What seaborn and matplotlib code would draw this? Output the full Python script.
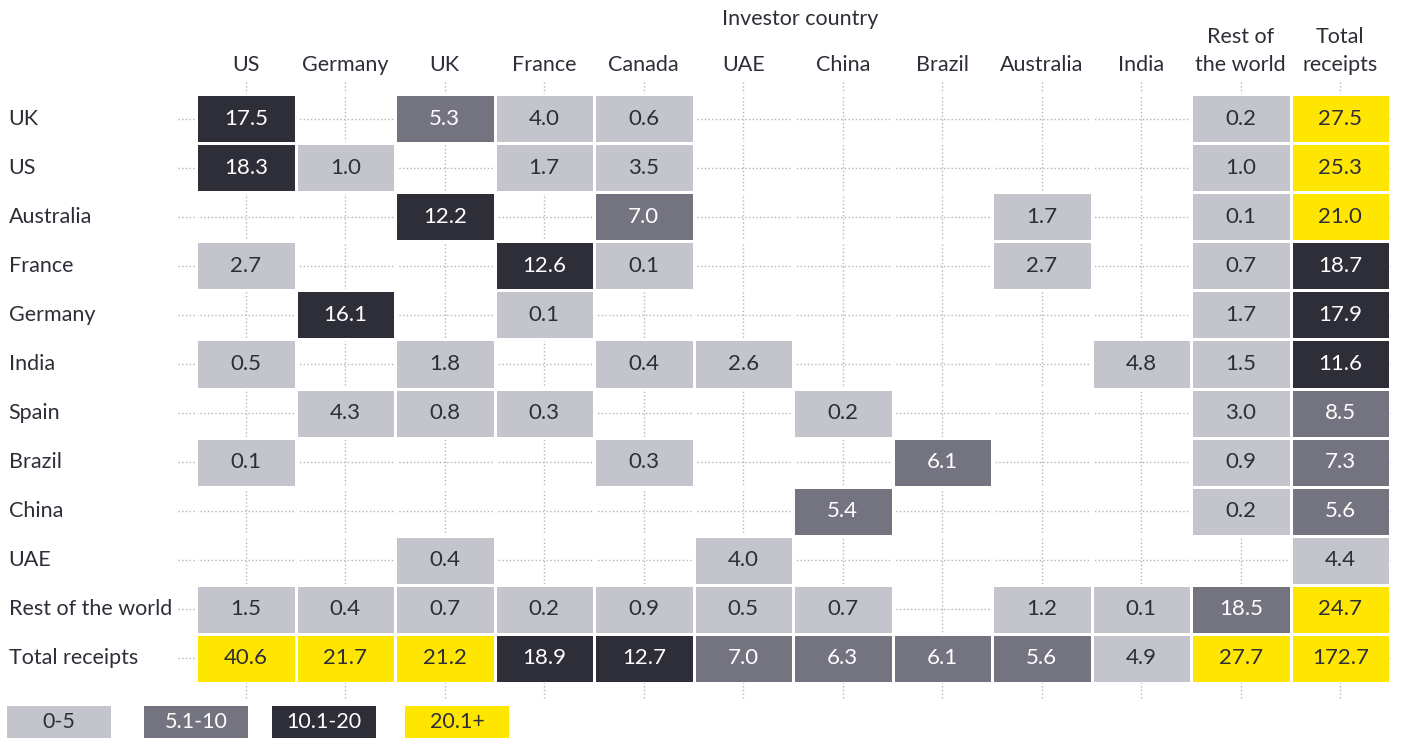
import numpy as np
import pandas as pd
import matplotlib.pyplot as plt
import seaborn as sns
from matplotlib.colors import ListedColormap
from matplotlib.patches import Rectangle

# === Datos ===
investidores = ['US', 'Germany', 'UK', 'France', 'Canada', 'UAE', 'China', 'Brazil',
                'Australia', 'India', 'Rest of\nthe world', 'Total\nreceipts']
receptores = ['UK', 'US', 'Australia', 'France', 'Germany', 'India', 'Spain', 'Brazil',
              'China', 'UAE', 'Rest of the world', 'Total receipts']
n = np.nan
valores = [
    [17.5, n, 5.3, 4.0, 0.6, n, n, n, n, n, 0.2, 27.5],
    [18.3, 1.0, n, 1.7, 3.5, n, n, n, n, n, 1.0, 25.3],
    [n, n, 12.2, n, 7.0, n, n, n, 1.7, n, 0.1, 21.0],
    [2.7, n, n, 12.6, 0.1, n, n, n, 2.7, n, 0.7, 18.7],
    [n, 16.1, n, 0.1, n, n, n, n, n, n, 1.7, 17.9],
    [0.5, n, 1.8, n, 0.4, 2.6, n, n, n, 4.8, 1.5, 11.6],
    [n, 4.3, 0.8, 0.3, n, n, 0.2, n, n, n, 3.0, 8.5],
    [0.1, n, n, n, 0.3, n, n, 6.1, n, n, 0.9, 7.3],
    [n, n, n, n, n, n, 5.4, n, n, n, 0.2, 5.6],
    [n, n, 0.4, n, n, 4.0, n, n, n, n, n, 4.4],
    [1.5, 0.4, 0.7, 0.2, 0.9, 0.5, 0.7, n, 1.2, 0.1, 18.5, 24.7],
    [40.6, 21.7, 21.2, 18.9, 12.7, 7.0, 6.3, 6.1, 5.6, 4.9, 27.7, 172.7],
]
rangos = ['0-5', '5.1-10', '10.1-20', '20.1+']
colores = ['#C4C4CD', '#747480', '#2E2E38', '#FFE600']
color_texto = ['#2E2E38', '#FFFFFF', '#FFFFFF', '#2E2E38']

df = pd.DataFrame(valores, index=receptores, columns=investidores)
niveles = pd.DataFrame(np.digitize(df.values, [5.05, 10.05, 20.05]).astype(float),
                       index=receptores, columns=investidores)
niveles.iloc[10, 10] = 1  # el original lo pinta en gris medio
niveles = niveles.where(df.notna())

# === Figura ===
plt.rcParams['font.family'] = ['Lato', 'DejaVu Sans']
fs = 15.5
fig = plt.figure(figsize=(14.01, 7.39), dpi=100)
ax = fig.add_axes([196 / 1401, 1 - 683 / 739, 1194 / 1401, 589 / 739])

sns.heatmap(niveles, ax=ax, cmap=ListedColormap(colores), vmin=-0.5, vmax=3.5,
            mask=df.isna(), annot=df, fmt='.1f', cbar=False,
            linewidths=2, linecolor='white',
            annot_kws={'fontsize': 16})

for t in ax.texts:
    x, y = t.get_position()
    t.set_color(color_texto[int(niveles.iloc[int(y), int(x)])])

# lineas punteadas de guia
for i in range(len(receptores)):
    ax.plot([-0.18, len(investidores)], [i + 0.5, i + 0.5], ls=':', color='#B5B5BE',
            lw=1, zorder=0, clip_on=False)
for j in range(len(investidores)):
    ax.plot([j + 0.5, j + 0.5], [-0.25, len(receptores) + 0.35], ls=':', color='#B5B5BE',
            lw=1, zorder=0, clip_on=False)

ax.xaxis.tick_top()
ax.set_xticklabels(investidores, rotation=0, fontsize=fs, color='#2E2E38',
                   ha='center', multialignment='center', linespacing=1.45)
ax.set_yticklabels(receptores, rotation=0, fontsize=fs, color='#2E2E38', ha='left')
ax.tick_params(axis='x', length=0, pad=14)
ax.tick_params(axis='y', length=0, pad=135)
ax.set_xlabel('')
ax.set_ylabel('')
ax.set_xlim(0, len(investidores))
ax.set_ylim(len(receptores), 0)

fig.text(800 / 1401, 1 - 19 / 739, 'Investor country', ha='center', va='center',
         fontsize=fs, color='#2E2E38')

# === Leyenda ===
cajas_x = [7, 144, 272, 405]
for x0, r, c, tc in zip(cajas_x, rangos, colores, color_texto):
    fig.patches.append(Rectangle((x0 / 1401, 1 - 738 / 739), 104 / 1401, 32 / 739,
                                 transform=fig.transFigure, facecolor=c, edgecolor='none'))
    fig.text((x0 + 52) / 1401, 1 - 722 / 739, r, ha='center', va='center',
             fontsize=fs, color=tc)

plt.savefig('out.png', dpi=100)
